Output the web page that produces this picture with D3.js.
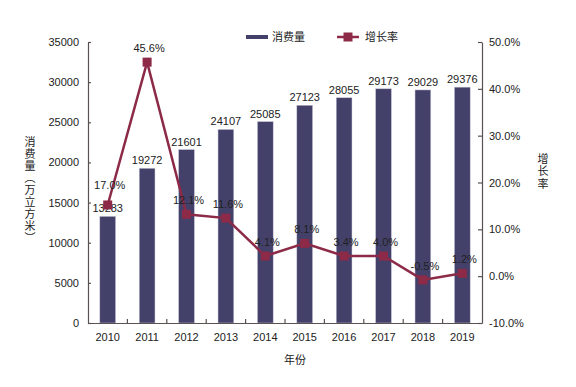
<!DOCTYPE html>
<html><head><meta charset="utf-8">
<script src="https://cdn.jsdelivr.net/npm/d3@7"></script>
<style>
body{margin:0;background:#fff;}
text{font-family:"Liberation Sans",Arial,sans-serif;fill:#222;}
.cjk{font-family:"Noto Sans CJK SC","Liberation Sans",sans-serif;}
.vert{writing-mode:vertical-rl;text-orientation:mixed;}
</style></head>
<body><svg id="c" width="576" height="387"></svg>
<script>
const years = ["2010","2011","2012","2013","2014","2015","2016","2017","2018","2019"];
const consumption = [13283,19272,21601,24107,25085,27123,28055,29173,29029,29376];
const growth = [15.2,45.7,13.2,12.4,4.3,7.0,4.3,4.3,-0.8,0.6];
const growthLabels = ["17.0%","45.6%","12.1%","11.6%","4.1%","8.1%","3.4%","4.0%","-0.5%","1.2%"];
const leftTicks = [0,5000,10000,15000,20000,25000,30000,35000];
const rightTicks = [-10,0,10,20,30,40,50];

const barColor = "#43416a", lineColor = "#8c2a48", axisColor = "#5a5250";
const svg = d3.select("#c");
const L = 88, R = 482, T = 42, B = 323;

const x = d3.scaleBand().domain(years).range([L, R]).paddingInner(0).paddingOuter(0);
const yL = d3.scaleLinear().domain([0,35000]).range([B, T]);
const yR = d3.scaleLinear().domain([-10,50]).range([B, T]);

// bars
const bw = x.bandwidth()*0.4;
svg.append("g").selectAll("rect").data(consumption).join("rect")
  .attr("x",(d,i)=>x(years[i])+x.bandwidth()/2-bw/2)
  .attr("y",d=>yL(d)).attr("width",bw).attr("height",d=>B-yL(d))
  .attr("fill",barColor).attr("stroke","#c8c8d8").attr("stroke-width",0.5);

svg.append("g").selectAll("text").data(consumption).join("text")
  .attr("x",(d,i)=>x(years[i])+x.bandwidth()/2).attr("y",d=>yL(d)-4)
  .attr("text-anchor","middle").attr("font-size",11).text(d=>d);

// axes
function styleAxis(g){
  g.selectAll("path").attr("stroke",axisColor).attr("stroke-width",1.2);
  g.selectAll("line").attr("stroke",axisColor).attr("stroke-width",1.2);
  g.selectAll("text").attr("font-size",11).attr("fill","#222").attr("font-family","Liberation Sans, Arial, sans-serif");
}
const gl = svg.append("g").attr("transform",`translate(${L},0)`)
  .call(d3.axisLeft(yL).tickValues(leftTicks).tickFormat(d3.format("d")).tickSizeInner(-3).tickSizeOuter(0).tickPadding(9));
styleAxis(gl);
const gr = svg.append("g").attr("transform",`translate(${R},0)`)
  .call(d3.axisRight(yR).tickValues(rightTicks).tickFormat(d=>d.toFixed(1)+"%").tickSizeInner(-4).tickSizeOuter(0).tickPadding(7));
styleAxis(gr);
const gb = svg.append("g").attr("transform",`translate(0,${B})`)
  .call(d3.axisBottom(x).tickSize(0).tickPadding(10));
styleAxis(gb);
// inner ticks between categories
svg.append("g").selectAll("line").data(years.slice(1)).join("line")
  .attr("x1",d=>x(d)).attr("x2",d=>x(d)).attr("y1",B).attr("y2",B-4)
  .attr("stroke",axisColor).attr("stroke-width",1.2);

// line
const line = d3.line().x((d,i)=>x(years[i])+x.bandwidth()/2).y(d=>yR(d));
svg.append("path").datum(growth).attr("d",line).attr("fill","none")
  .attr("stroke",lineColor).attr("stroke-width",2.5);
svg.append("g").selectAll("rect").data(growth).join("rect")
  .attr("x",(d,i)=>x(years[i])+x.bandwidth()/2-4.5).attr("y",d=>yR(d)-4.5)
  .attr("width",9).attr("height",9).attr("fill",lineColor);
svg.append("g").selectAll("text").data(growth).join("text")
  .attr("x",(d,i)=>x(years[i])+x.bandwidth()/2+2)
  .attr("y",(d,i)=>yR(d)-(i===0?16:10))
  .attr("text-anchor","middle").attr("font-size",11).text((d,i)=>growthLabels[i]);

// titles (vertical)
svg.append("text").attr("class","cjk vert").attr("x",30).attr("y",136)
  .attr("font-size",11).attr("letter-spacing",1).text("消费量（万立方米）");
svg.append("text").attr("class","cjk vert").attr("x",543).attr("y",153)
  .attr("font-size",11).attr("letter-spacing",1.5).text("增长率");
svg.append("text").attr("class","cjk").attr("x",295).attr("y",364).attr("text-anchor","middle")
  .attr("font-size",11).text("年份");

// legend
svg.append("line").attr("x1",246).attr("x2",268).attr("y1",37).attr("y2",37)
  .attr("stroke",barColor).attr("stroke-width",4);
svg.append("text").attr("class","cjk").attr("x",272).attr("y",41).attr("font-size",11).text("消费量");
svg.append("line").attr("x1",337).attr("x2",359).attr("y1",37).attr("y2",37)
  .attr("stroke",lineColor).attr("stroke-width",2.5);
svg.append("rect").attr("x",343.5).attr("y",32.5).attr("width",9).attr("height",9).attr("fill",lineColor);
svg.append("text").attr("class","cjk").attr("x",365).attr("y",41).attr("font-size",11).text("增长率");
</script></body></html>
